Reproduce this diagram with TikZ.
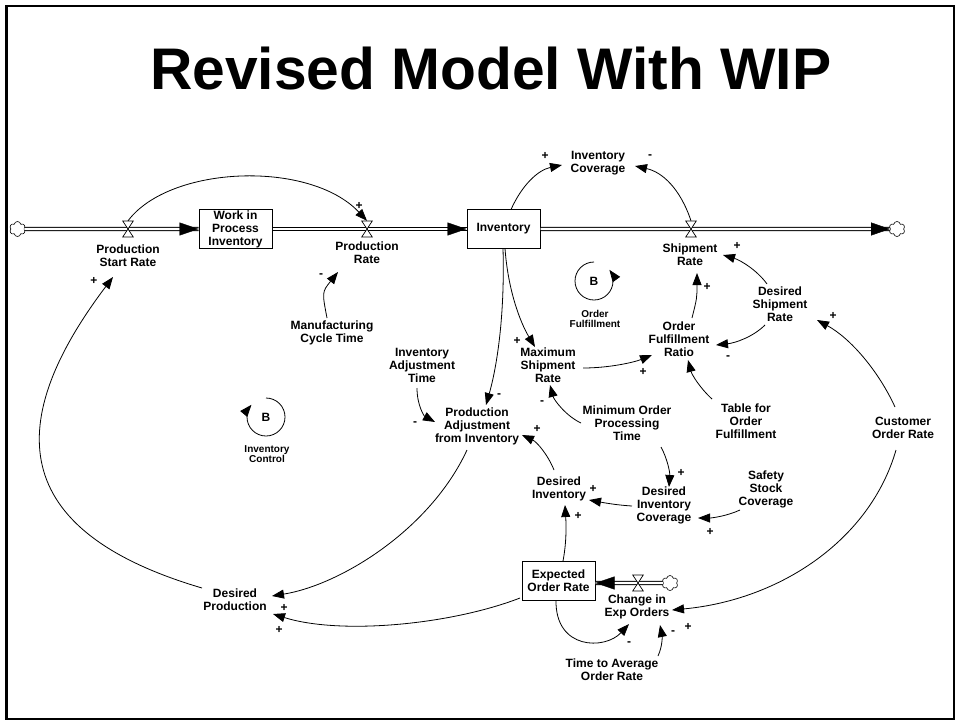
\documentclass[tikz,border=0pt]{standalone}
\usepackage{fontspec}
\setmainfont{Liberation Sans}
\usetikzlibrary{arrows.meta,shapes.symbols}

\begin{document}
\begin{tikzpicture}[x=1pt,y=-1pt,
  lbl/.style={align=center,inner sep=1pt,font=\fontsize{12}{13}\selectfont\bfseries},
  loopname/.style={align=center,inner sep=0pt,font=\fontsize{10}{10.5}\selectfont\bfseries},
  sgn/.style={inner sep=0pt,font=\fontsize{12}{12}\selectfont\bfseries},
  stock/.style={draw,line width=1pt,fill=white,minimum width=73pt,minimum height=39pt,
    inner sep=0pt,align=center,font=\fontsize{12}{13}\selectfont\bfseries},
  valvept/.style={minimum width=10.6pt,minimum height=16pt,inner sep=0pt},
  sink/.style={cloud,cloud puffs=6,cloud puff arc=160,aspect=1.05,draw,line width=0.6pt,
    minimum width=16pt,minimum height=15pt,inner sep=0pt},
  pipe/.style={draw,line width=1pt,double=white,double distance=2.4pt},
  pipehead/.style={draw=white,line width=0.4pt,
    -{Triangle[length=19pt,width=13pt,color=black,fill=black]}},
  link/.style={draw,line width=0.8pt,-{Triangle[length=12pt,width=9pt]}},
  valve/.pic={\draw[line width=0.7pt,fill=white] (-5.3,-8) -- (5.3,-8) -- (-5.3,8) -- (5.3,8) -- cycle;}
]
\useasboundingbox (0,0) rectangle (960,723);
\draw[line width=2.5pt] (6.5,6) rectangle (954,719);

% title
\node[anchor=base west,inner sep=0pt,font=\fontsize{58.7}{60}\selectfont\bfseries] (title) at (150,89) {Revised Model With WIP};

% stocks
\node[stock] (wip) at (235.5,229) {Work in\\Process\\Inventory};
\node[stock] (inv) at (503.5,229) {Inventory};
\node[stock] (eor) at (558.5,580.5) {Expected\\Order Rate};

% valve positions
\node[valvept] (v1) at (128,229) {};
\node[valvept] (v2) at (367,229) {};
\node[valvept] (v3) at (691,229) {};
\node[valvept] (v4) at (638,583) {};

% sources and sinks
\node[sink] (c1) at (17.5,229) {};
\node[sink] (c2) at (897,229) {};
\node[sink] (c3) at (670,583) {};

% material flows
\draw[pipe] (c1) -- (c1 -| wip.west);
\draw[pipehead] (c1) -- (c1 -| wip.west);
\draw[pipe] (wip) -- (inv);
\draw[pipehead] (wip) -- (inv);
\draw[pipe] (inv) -- (c2);
\draw[pipehead] (inv) -- (c2);
\draw[pipe] (c3) -- (c3 -| eor.east);
\draw[pipehead] (c3) -- (c3 -| eor.east);
\foreach \v in {v1,v2,v3,v4} \pic at (\v) {valve};

% variables
\node[lbl] (psr) at (128,256) {Production\\Start Rate};
\node[lbl] (pr) at (367,253) {Production\\Rate};
\node[lbl] (sr) at (690,255) {Shipment\\Rate};
\node[lbl] (ic) at (598,163) {Inventory\\Coverage};
\node[lbl] (mct) at (332,333) {Manufacturing\\Cycle Time};
\node[lbl] (iat) at (422,365) {Inventory\\Adjustment\\Time};
\node[lbl] (pafi) at (477,426) {Production\\Adjustment\\from Inventory};
\node[lbl] (msr) at (548,365) {Maximum\\Shipment\\Rate};
\node[lbl] (ofr) at (679,339) {Order\\Fulfillment\\Ratio};
\node[lbl] (dsr) at (780,304) {Desired\\Shipment\\Rate};
\node[lbl] (tfof) at (746,421) {Table for\\Order\\Fulfillment};
\node[lbl] (mopt) at (627,423) {Minimum Order\\Processing\\Time};
\node[lbl] (cor) at (903,428) {Customer\\Order Rate};
\node[lbl] (di) at (559,489) {Desired\\Inventory};
\node[lbl] (dic) at (664,505) {Desired\\Inventory\\Coverage};
\node[lbl] (ssc) at (766,489) {Safety\\Stock\\Coverage};
\node[lbl] (dp) at (235,600) {Desired\\Production};
\node[lbl] (ceo) at (637,607) {Change in\\Exp Orders};
\node[lbl] (taor) at (612,670) {Time to Average\\Order Rate};

% feedback loops
\node[lbl] (lb1) at (266,417) {B};
\node[loopname] (ln1) at (267,454) {Inventory\\Control};
\draw[link] ([shift={(-90:19)}]lb1.center) arc[start angle=-90,end angle=220,radius=19];
\node[lbl] (lb2) at (594,281) {B};
\node[loopname] (ln2) at (595,319) {Order\\Fulfillment};
\draw[link] ([shift={(270:19)}]lb2.center) arc[start angle=270,end angle=-36,radius=19];

% causal links
\draw[link] (v1.north) .. controls (170,165) and (310,160) .. (v2.north);
\draw[link] ([shift={(-33,-12)}]dp.center) .. controls (5,530) and (5,420) .. ([shift={(-15,21)}]psr.center);
\draw[link] ([shift={(-5,-15)}]mct.center) .. controls (322,292) .. ([shift={(-29,19)}]pr.center);
\draw[link] ([shift={(7.5,-19.5)}]inv.center) .. controls (522,185) and (538,170) .. ([shift={(-36,2)}]ic.center);
\draw[link] (v3.north) .. controls (680,188) and (662,172) .. ([shift={(37,3)}]ic.center);
\draw[link] ([shift={(-0.5,19.5)}]inv.center) .. controls (505,320) and (496,370) .. ([shift={(9,-21)}]pafi.center);
\draw[link] ([shift={(1.5,19.5)}]inv.center) .. controls (508,290) and (520,322) .. ([shift={(-13,-18)}]msr.center);
\draw[link] ([shift={(35,3)}]msr.center) .. controls (610,368) and (635,362) .. ([shift={(-27,16)}]ofr.center);
\draw[link] ([shift={(13,-21)}]ofr.center) .. controls (697,298) .. ([shift={(7,18)}]sr.center);
\draw[link] ([shift={(-13,-20)}]dsr.center) .. controls (757,270) and (740,260) .. ([shift={(33,0)}]sr.center);
\draw[link] ([shift={(-15,21)}]dsr.center) .. controls (753,337) and (735,343) .. ([shift={(37,6)}]ofr.center);
\draw[link] ([shift={(-8,-21)}]cor.center) .. controls (878,370) and (850,338) .. ([shift={(37,16)}]dsr.center);
\draw[link] ([shift={(-34,-22)}]tfof.center) .. controls (700,388) and (692,375) .. ([shift={(9,21)}]ofr.center);
\draw[link] ([shift={(-46,0)}]mopt.center) .. controls (566,416) and (554,400) .. ([shift={(2,20)}]msr.center);
\draw[link] ([shift={(34,24)}]mopt.center) .. controls (667,458) and (670,472) .. ([shift={(5,-18)}]dic.center);
\draw[link] ([shift={(-32,1)}]dic.center) .. controls (615,505) and (600,502) .. ([shift={(30,11)}]di.center);
\draw[link] ([shift={(-26,21)}]ssc.center) .. controls (727,516) and (712,518) .. ([shift={(34,13)}]dic.center);
\draw[link] ([shift={(-5,-19)}]di.center) .. controls (548,455) and (537,442) .. ([shift={(45,9)}]pafi.center);
\draw[link] ([shift={(-5,23)}]iat.center) .. controls (417,405) and (424,416) .. ([shift={(-42,-4)}]pafi.center);
\draw[link] ([shift={(-10,24)}]pafi.center) .. controls (430,530) and (340,585) .. ([shift={(37,-4)}]dp.center);
\draw[link] ([shift={(-38.5,17.5)}]eor.center) .. controls (450,625) and (340,635) .. ([shift={(38,14)}]dp.center);
\draw[link] ([shift={(-2.5,19.5)}]eor.center) .. controls (555,650) and (605,650) .. ([shift={(-8,17)}]ceo.center);
\draw[link] ([shift={(46,-14)}]taor.center) .. controls (663,645) and (662,635) .. ([shift={(23,18)}]ceo.center);
\draw[link] ([shift={(-7,22)}]cor.center) .. controls (870,540) and (780,600) .. ([shift={(35,3)}]ceo.center);
\draw[link] ([shift={(4.5,-19.5)}]eor.center) .. controls (567,540) and (566,522) .. ([shift={(6,16)}]di.center);

% link polarities
\node[sgn] at (359,206) {+};
\node[sgn] at (94,281) {+};
\node[sgn] at (321,276) {-};
\node[sgn] at (545,156) {+};
\node[sgn] at (650,157) {-};
\node[sgn] at (737,246) {+};
\node[sgn] at (707,287) {+};
\node[sgn] at (833,316) {+};
\node[sgn] at (517,341) {+};
\node[sgn] at (643,372) {+};
\node[sgn] at (728,358) {-};
\node[sgn] at (499,396) {-};
\node[sgn] at (415,424) {-};
\node[sgn] at (537,429) {+};
\node[sgn] at (542,403) {-};
\node[sgn] at (681,473) {+};
\node[sgn] at (593,489) {+};
\node[sgn] at (578,516) {+};
\node[sgn] at (710,532) {+};
\node[sgn] at (284,608) {+};
\node[sgn] at (279,630) {+};
\node[sgn] at (629,644) {-};
\node[sgn] at (673,633) {-};
\node[sgn] at (688,627) {+};
\end{tikzpicture}
\end{document}
